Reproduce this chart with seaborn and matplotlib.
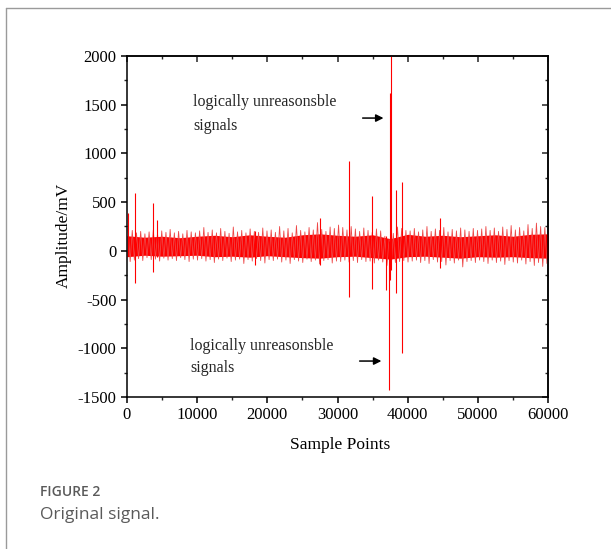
import numpy as np
import pandas as pd
import seaborn as sns
import matplotlib.pyplot as plt
from matplotlib.lines import Line2D
from matplotlib.ticker import MultipleLocator

# outer envelope of the noisy band, one value per block of 600 samples
block = 600
upper = [230, 210, 185, 200, 175, 195, 215, 180, 205, 190, 220, 185, 200, 175, 210, 195, 185,
         205, 240, 190, 215, 185, 230, 200, 180, 245, 195, 210, 185, 225, 200, 190, 235, 205,
         215, 190, 250, 205, 230, 185, 260, 210, 195, 240, 215, 290, 220, 200, 245, 230, 265,
         240, 215, 250, 225, 200, 235, 210, 190, 225, 205, 150, 120, 180, 245, 230, 210,
         205, 230, 195, 215, 250, 200, 225, 210, 240, 195, 220, 205, 235, 215, 200, 230, 210,
         225, 250, 210, 235, 200, 245, 220, 260, 215, 240, 205, 270, 230, 285, 250, 240]
lower = [-110, -95, -80, -100, -70, -90, -85, -105, -75, -95, -80, -100, -70, -90, -110, -85, -95,
         -80, -105, -90, -120, -85, -100, -75, -110, -95, -85, -130, -90, -105, -80, -100, -125, -90,
         -100, -85, -115, -95, -130, -90, -105, -120, -85, -110, -95, -135, -100, -90, -125, -105, -110,
         -95, -115, -100, -120, -90, -110, -105, -125, -95, -115, -150, -170, -120, -110, -100, -115,
         -105, -95, -120, -100, -130, -90, -115, -110, -145, -100, -125, -95, -165, -110, -100, -120, -95,
         -110, -130, -95, -120, -105, -140, -100, -115, -125, -95, -135, -110, -150, -120, -160, -130]

# dense solid core of the band, every 2500 samples
core_x = [0, 2500, 5000, 7500, 10000, 12500, 15000, 17500, 20000, 22500, 25000, 27500, 30000,
          32500, 35000, 37500, 40000, 42500, 45000, 47500, 50000, 52500, 55000, 57500, 60000]
core_hi = [155, 140, 150, 135, 150, 160, 145, 165, 150, 140, 165, 175, 160,
           150, 165, 125, 170, 150, 160, 145, 155, 165, 150, 170, 175]
core_lo = [-60, -45, -55, -50, -45, -60, -55, -65, -50, -60, -70, -75, -60,
           -55, -70, -85, -60, -55, -65, -75, -60, -65, -60, -70, -75]

# isolated spikes: sample index, peak, trough
spike_pos = [150, 1150, 3750, 4300, 18230, 27490, 31700, 34870, 36900, 37370, 37480, 37560, 38380, 39150, 44590]
spike_top = [390, 590, 490, 320, 200, 335, 920, 560, 150, 100, 1620, 2050, 625, 710, 335]
spike_bot = [-20, -335, -215, -60, -150, -145, -470, -390, -400, -1430, -300, -200, -435, -1050, -180]

# the band drawn as a trace swinging between the read envelope values
xs, ys = [], []
for i, (hi, lo) in enumerate(zip(upper, lower)):
    xs += [i * block + block / 4, i * block + 3 * block / 4]
    ys += [hi, lo]
df = pd.DataFrame({"sample": xs, "amp": ys})

sns.set_theme(style="ticks")
plt.rcParams["font.family"] = ["Liberation Serif", "DejaVu Serif"]
plt.rcParams["axes.unicode_minus"] = False

fig = plt.figure(figsize=(6.11, 5.49), dpi=100)
ax = fig.add_axes([127 / 611, 1 - 397 / 549, 421 / 611, 341 / 549])

sns.lineplot(data=df, x="sample", y="amp", ax=ax, color="#ee4848", lw=0.6,
             estimator=None, sort=False)
ax.fill_between(core_x, core_lo, core_hi, color="#ff0000", lw=0)
ax.vlines(spike_pos, spike_bot, spike_top, color="#ff0000", lw=0.8)

ax.set_xlim(0, 60000)
ax.set_ylim(-1500, 2000)
ax.xaxis.set_major_locator(MultipleLocator(10000))
ax.xaxis.set_minor_locator(MultipleLocator(5000))
ax.yaxis.set_major_locator(MultipleLocator(500))
ax.yaxis.set_minor_locator(MultipleLocator(250))
ax.tick_params(which="major", direction="out", length=4.5, width=1.1, labelsize=12,
               colors="black", pad=3)
ax.tick_params(which="minor", direction="out", length=2.5, width=1.0)
for s in ax.spines.values():
    s.set_linewidth(1.1)
    s.set_color("black")

# mirrored ticks on top / right point inwards
top = ax.secondary_xaxis("top")
top.xaxis.set_major_locator(MultipleLocator(10000))
top.xaxis.set_minor_locator(MultipleLocator(5000))
top.tick_params(which="major", direction="in", length=4.5, width=1.1, labeltop=False)
top.tick_params(which="minor", direction="in", length=2.5, width=1.0)
right = ax.secondary_yaxis("right")
right.yaxis.set_major_locator(MultipleLocator(500))
right.yaxis.set_minor_locator(MultipleLocator(250))
right.tick_params(which="major", direction="in", length=4.5, width=1.1, labelright=False)
right.tick_params(which="minor", direction="in", length=2.5, width=1.0)

ax.set_xlabel("Sample Points", fontsize=12.5, color="black")
ax.set_ylabel("Amplitude/mV", fontsize=12.5, color="black")
ax.xaxis.set_label_coords(0.506, -0.117)
ax.yaxis.set_label_coords(-0.13, 0.475)

# annotations
ax.text(9400, 1528, "logically unreasonsble", fontsize=11.5, va="center", ha="left")
ax.text(9400, 1281, "signals", fontsize=11.5, va="center", ha="left")
ax.annotate("", xy=(36950, 1363), xytext=(33190, 1363),
            arrowprops=dict(arrowstyle="-|>", color="black", lw=1.1, mutation_scale=11))
ax.text(8970, -977, "logically unreasonsble", fontsize=11.5, va="center", ha="left")
ax.text(8970, -1203, "signals", fontsize=11.5, va="center", ha="left")
ax.annotate("", xy=(36650, -1131), xytext=(32760, -1131),
            arrowprops=dict(arrowstyle="-|>", color="black", lw=1.1, mutation_scale=11))

# page frame and caption
fig.add_artist(Line2D([6 / 611, 6 / 611], [0, 1 - 8 / 549], color="#9a9a9a", lw=1.0))
fig.add_artist(Line2D([6 / 611, 1], [1 - 8 / 549, 1 - 8 / 549], color="#9a9a9a", lw=1.0))
fig.text(40 / 611, 1 - 496 / 549, "FIGURE 2", fontsize=10, color="#5a5a5a",
         family=["Open Sans", "DejaVu Sans"], fontweight="semibold", va="baseline")
fig.text(40 / 611, 1 - 519 / 549, "Original signal.", fontsize=12.5, color="#5a5a5a",
         family=["Open Sans", "DejaVu Sans"], va="baseline")

fig.savefig("out.png", dpi=100)
